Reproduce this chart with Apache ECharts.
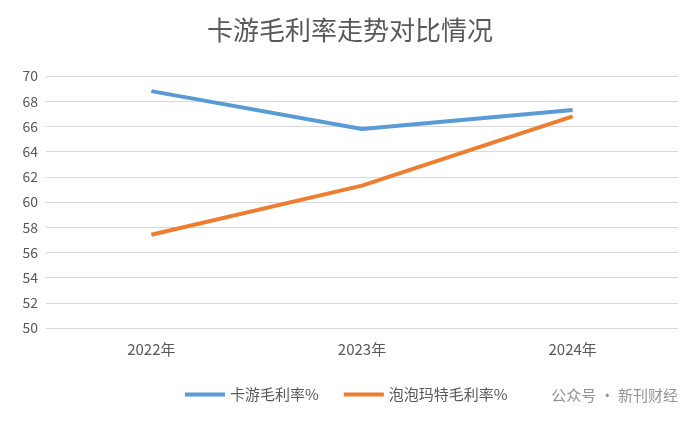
<!DOCTYPE html>
<html><head><meta charset="utf-8">
<script src="https://cdn.jsdelivr.net/npm/echarts@6/dist/echarts.min.js"></script>
<style>html,body{margin:0;padding:0;background:#fff}#c{width:700px;height:421px}</style>
</head><body><div id="c"></div>
<script>
const categories = ['2022年','2023年','2024年'];
const kayou = [68.8, 65.8, 67.3];
const popmart = [57.4, 61.3, 66.8];
const chart = echarts.init(document.getElementById('c'));
const ff = '"Noto Sans CJK SC","Noto Sans",sans-serif';
chart.setOption({
  animation:false,
  title:{text:'卡游毛利率走势对比情况',left:'center',top:12,textStyle:{fontFamily:ff,fontSize:26,fontWeight:'normal',color:'#595959'}},
  grid:{left:46,right:22,top:76,bottom:93},
  legend:{bottom:14,left:180,itemWidth:40,itemHeight:4,itemGap:25,icon:'rect',textStyle:{fontFamily:ff,fontSize:15,color:'#595959'}},
  xAxis:{type:'category',data:categories,boundaryGap:true,axisTick:{show:false},axisLine:{lineStyle:{color:'#d9d9d9'}},axisLabel:{fontFamily:ff,fontSize:15,color:'#595959',margin:14}},
  yAxis:{type:'value',min:50,max:70,interval:2,axisLabel:{fontFamily:ff,fontSize:14,color:'#595959'},splitLine:{lineStyle:{color:'#d9d9d9'}}},
  series:[
    {name:'卡游毛利率%',type:'line',data:kayou,symbol:'none',lineStyle:{width:4,color:'#5b9bd5'},itemStyle:{color:'#5b9bd5'}},
    {name:'泡泡玛特毛利率%',type:'line',data:popmart,symbol:'none',lineStyle:{width:4,color:'#ed7d31'},itemStyle:{color:'#ed7d31'}}
  ],
  graphic:[{type:'text',right:22,bottom:18,style:{text:'公众号 · 新刊财经',font:'15px "Noto Sans CJK SC"',fill:'rgba(120,120,120,0.8)'}}]
});
</script></body></html>
